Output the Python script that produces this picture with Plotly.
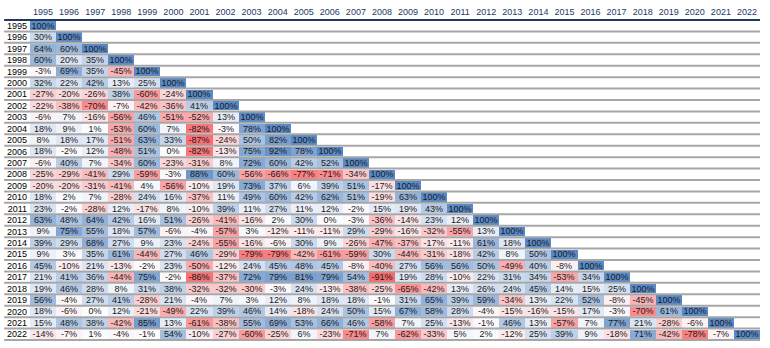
import plotly.graph_objects as go

years = [str(y) for y in range(1995, 2023)]

r1995 = [100]
r1996 = [30, 100]
r1997 = [64, 60, 100]
r1998 = [60, 20, 35, 100]
r1999 = [-3, 69, 35, -45, 100]
r2000 = [32, 22, 42, 13, 25, 100]
r2001 = [-27, -20, -26, 38, -60, -24, 100]
r2002 = [-22, -38, -70, -7, -42, -36, 41, 100]
r2003 = [-6, 7, -16, -56, 46, -51, -52, 13, 100]
r2004 = [18, 9, 1, -53, 60, 7, -82, -3, 78, 100]
r2005 = [8, 18, 17, -51, 63, 33, -87, -24, 50, 82, 100]
r2006 = [18, -2, 12, -48, 51, 0, -82, -13, 75, 92, 78, 100]
r2007 = [-6, 40, 7, -34, 60, -23, -31, 8, 72, 60, 42, 52, 100]
r2008 = [-25, -29, -41, 29, -59, -3, 88, 60, -56, -66, -77, -71, -34, 100]
r2009 = [-20, -20, -31, -41, 4, -56, -10, 19, 73, 37, 6, 39, 51, -17, 100]
r2010 = [18, 2, 7, -28, 24, 16, -37, 11, 49, 60, 42, 62, 51, -19, 63, 100]
r2011 = [23, -2, -28, 12, -17, 8, -10, 39, 11, 27, 11, 12, -2, 15, 19, 43, 100]
r2012 = [63, 48, 64, 42, 16, 51, -26, -41, -16, 2, 30, 0, -3, -36, -14, 23, 12, 100]
r2013 = [9, 75, 55, 18, 57, -6, -4, -57, 3, -12, -11, -11, 29, -29, -16, -32, -55, 13, 100]
r2014 = [39, 29, 68, 27, 9, 23, -24, -55, -16, -6, 30, 9, -26, -47, -37, -17, -11, 61, 18, 100]
r2015 = [9, 3, 35, 61, -44, 27, 46, -29, -79, -79, -42, -61, -59, 30, -44, -31, -18, 42, 8, 50, 100]
r2016 = [45, -10, 21, -13, -2, 23, -50, -12, 24, 45, 48, 45, -8, -40, 27, 56, 56, 50, -49, 40, -8, 100]
r2017 = [21, 41, 36, -44, 75, -2, -86, -37, 72, 79, 81, 79, 54, -91, 19, 28, -10, 22, 31, 34, -53, 34, 100]
r2018 = [19, 46, 28, 8, 31, 38, -32, -32, -30, -3, 24, -13, -38, -25, -65, -42, 13, 26, 24, 45, 14, 15, 25, 100]
r2019 = [56, -4, 27, 41, -28, 21, -4, 7, 3, 12, 8, 18, 18, -1, 31, 65, 39, 59, -34, 13, 22, 52, -8, -45, 100]
r2020 = [18, -6, 0, 12, -21, -49, 22, 39, 46, 14, -18, 24, 50, 15, 67, 58, 28, -4, -15, -16, -15, 17, -3, -70, 61, 100]
r2021 = [15, 48, 38, -42, 85, 13, -61, -38, 55, 69, 53, 66, 46, -58, 7, 25, -13, -1, 46, 13, -57, 7, 77, 21, -28, -6, 100]
r2022 = [-14, -7, 1, -4, -1, 54, -10, -27, -60, -25, 6, -23, -71, 7, -62, -33, 5, 2, -12, 25, 39, 9, -18, 71, -42, -78, -7, 100]

rows = [r1995, r1996, r1997, r1998, r1999, r2000, r2001, r2002, r2003, r2004,
        r2005, r2006, r2007, r2008, r2009, r2010, r2011, r2012, r2013, r2014,
        r2015, r2016, r2017, r2018, r2019, r2020, r2021, r2022]

n = len(years)
z = []
txt = []
for r in rows:
    z.append(r + [None] * (n - len(r)))
    txt.append([f"{v}%" for v in r] + [""] * (n - len(r)))

all_vals = [v for r in rows for v in r]
zmin, zmax = min(all_vals), max(all_vals)
mid = (0 - zmin) / (zmax - zmin)

RED = "#F8696B"
WHITE = "#FCFCFF"
BLUE = "#5A8AC6"

fig = go.Figure(go.Heatmap(
    x=years, y=years, z=z, text=txt,
    texttemplate="%{text}",
    textfont=dict(family="Liberation Sans, Arial", size=9, color="#1a1a1a"),
    colorscale=[[0, RED], [mid, WHITE], [1, BLUE]],
    zmin=zmin, zmax=zmax, showscale=False, ygap=2, xgap=0,
    hoverongaps=False,
))

L, R, T, B = 26, 10, 14, 7
W, H = 770, 348
plot_w = W - L - R
x_left = -L / plot_w

shapes = []
for k in range(1, n + 1):
    shapes.append(dict(type="line", xref="paper", yref="y", x0=x_left, x1=1,
                       y0=k - 0.5, y1=k - 0.5, line=dict(color="#A6A6A6", width=2)))
shapes.append(dict(type="line", xref="paper", yref="y", x0=x_left, x1=1,
                   y0=-0.5, y1=-0.5, line=dict(color="#1F3864", width=2)))

fig.update_layout(
    width=W, height=H,
    margin=dict(l=L, r=R, t=T, b=B),
    plot_bgcolor="white", paper_bgcolor="white",
    shapes=shapes,
    font=dict(family="Liberation Sans, Arial", size=9),
    xaxis=dict(side="top", showgrid=False, zeroline=False, ticks="", ticklen=0,
               tickfont=dict(color="#1F3864", size=9), type="category",
               showline=False, ticklabelstandoff=1),
    yaxis=dict(autorange="reversed", showgrid=False, zeroline=False, ticks="",
               tickfont=dict(color="#000000", size=9), type="category",
               showline=False, ticklabelstandoff=2),
)

fig.write_html("out.html")
